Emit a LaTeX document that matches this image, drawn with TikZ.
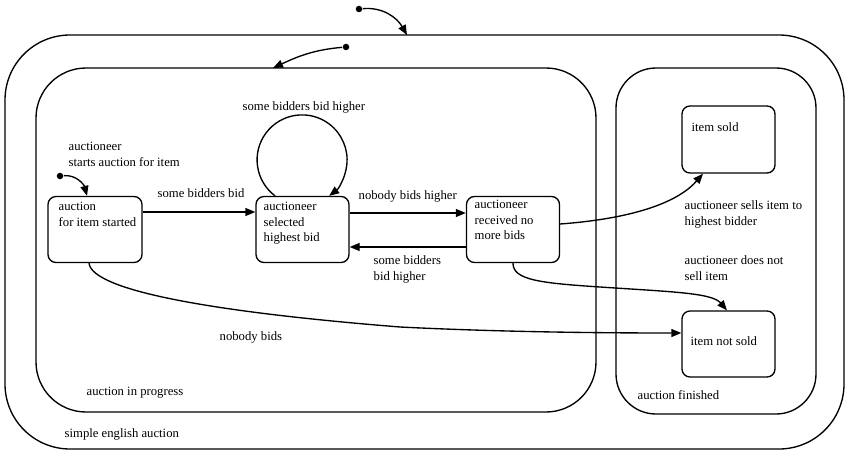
\documentclass[tikz,border=0pt]{standalone}
\usepackage{fontspec}
\setmainfont{Liberation Serif}
\usetikzlibrary{arrows.meta,calc}
\newcommand\lbl{\fontsize{12.7}{15.5}\selectfont}
\begin{document}
\begin{tikzpicture}[x=1pt,y=1pt,
  line width=1.35pt,
  container/.style={draw, rectangle, inner sep=0pt},
  state/.style={draw, rectangle, rounded corners=8pt, inner sep=0pt},
  lab/.style={font=\lbl, align=left, inner sep=0pt, anchor=north west,
              execute at begin node=\strut},
  initdot/.style={circle, fill, inner sep=0pt, minimum size=6.5pt},
  tr/.style={-{Triangle[length=10pt,width=8pt]}}]
\useasboundingbox (0,0) rectangle (846,451);

% composite states
\node[container, rounded corners=65pt, minimum width=839pt, minimum height=414pt] (outer) at (424.5,209) {};
\node[container, rounded corners=50pt, minimum width=560pt, minimum height=344pt] (progress) at (316,211) {};
\node[container, rounded corners=40pt, minimum width=200pt, minimum height=346pt] (finished) at (716,210) {};

% simple states
\node[state, minimum width=94pt, minimum height=66pt] (s1) at (95,221.5) {};
\node[state, minimum width=93pt, minimum height=66pt] (s2) at (302.5,221.5) {};
\node[state, minimum width=93pt, minimum height=66pt] (s3) at (513,221.5) {};
\node[state, minimum width=93pt, minimum height=67pt] (s4) at (728.5,311.5) {};
\node[state, minimum width=93pt, minimum height=66pt] (s5) at (728.5,107) {};

% state texts
\node[lab] (t1) at (58,249.5) {auction\\for item started};
\node[lab] (t2) at (263,249.5) {auctioneer\\selected\\highest bid};
\node[lab] (t3) at (474,251.5) {auctioneer\\received no\\more bids};
\node[lab] (t4) at (691,331.5) {item sold};
\node[lab] (t5) at (690,117.5) {item not sold};

% region names
\node[lab] (n1) at (86,67.5) {auction in progress};
\node[lab] (n2) at (637,63.5) {auction finished};
\node[lab] (n3) at (64,25.5) {simple english auction};

% initial pseudostates
\node[initdot] (i0) at (359,442) {};
\node[initdot] (i1) at (346,404) {};
\node[initdot] (i2) at (60,275) {};
\coordinate (e0) at (407,416);
\coordinate (e1) at (273,383);
\draw[tr] (i0) to[out=5, in=120] (e0);
\draw[tr] (i1) to[out=185, in=25] (e1);
\draw[tr] (i2) to[out=5, in=105] ([xshift=-8pt]s1.north);

% transitions
\draw[tr] ([yshift=17.5pt]s1.east) -- ([yshift=17.5pt]s2.west);
\draw[tr] ([yshift=16.5pt]s2.east) -- ([yshift=16.5pt]s3.west);
\draw[tr] ([yshift=-17.5pt]s3.west) -- ([yshift=-17.5pt]s2.east);
\draw[tr] ([xshift=-27.5pt]s2.north) arc[start angle=233, end angle=-53, radius=45];
\draw[tr] ([yshift=5.5pt]s3.east) .. controls (640,233) and (680,251) .. ([xshift=-25.5pt]s4.south);
\draw[tr] (s3.south) .. controls (513,171) and (540,168) .. (600,164)
   .. controls (675,159) and (712,158) .. ([xshift=-1.5pt]s5.north);
\draw[tr] ([xshift=-6pt]s1.south) .. controls (92,162) and (200,140) .. (400,124)
   .. controls (500,119) and (600,118) .. ([yshift=11pt]s5.west);

% transition labels
\node[lab] (l1) at (157,265.5) {some bidders bid};
\node[lab] (l2) at (358,263.5) {nobody bids higher};
\node[lab] (l3) at (373,195.5) {some bidders\\bid higher};
\node[lab] (l4) at (242,352.5) {some bidders bid higher};
\node[lab] (l5) at (68,309.5) {auctioneer\\starts auction for item};
\node[lab] (l6) at (684,250.5) {auctioneer sells item to\\highest bidder};
\node[lab] (l7) at (684,195.5) {auctioneer does not\\sell item};
\node[lab] (l8) at (219,122.5) {nobody bids};
\end{tikzpicture}
\end{document}
